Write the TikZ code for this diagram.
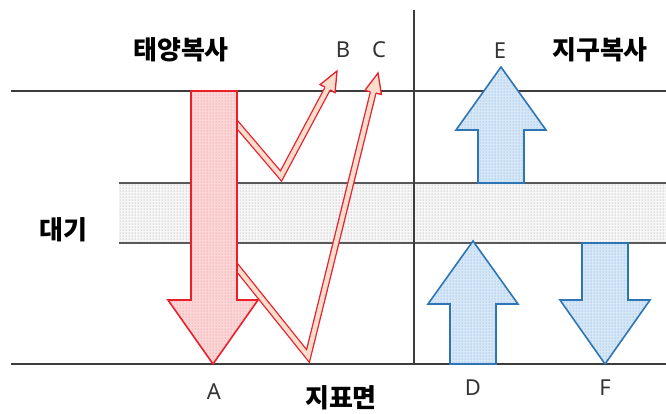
\documentclass[tikz,border=0pt]{standalone}
\usepackage{fontspec}
\setmainfont{Noto Sans}
\newfontfamily\kr{Noto Sans CJK KR}
\usetikzlibrary{calc,patterns}
\definecolor{rline}{RGB}{232,32,44}
\definecolor{rfill}{RGB}{252,214,214}
\definecolor{rthin}{RGB}{250,222,205}
\definecolor{bline}{RGB}{46,117,182}
\definecolor{bfill}{RGB}{214,232,248}
\definecolor{gline}{RGB}{60,60,60}
\newcommand\thinhead[2]{%
  \coordinate (#1b) at ($(#1tip)!20pt!(#2)$);
  \fill[rthin] ($(#1b)!2.9pt!90:(#1tip)$) -- ($(#1b)!8.5pt!90:(#1tip)$) -- (#1tip) -- ($(#1b)!8.5pt!-90:(#1tip)$) -- ($(#1b)!2.9pt!-90:(#1tip)$) -- cycle;
  \draw[thinline] ($(#1b)!2.9pt!90:(#1tip)$) -- ($(#1b)!8.5pt!90:(#1tip)$) -- (#1tip) -- ($(#1b)!8.5pt!-90:(#1tip)$) -- ($(#1b)!2.9pt!-90:(#1tip)$);
}
\begin{document}
\begin{tikzpicture}[x=1pt,y=-1pt,
  frame/.style={draw=gline,line width=1.2pt},
  bandline/.style={draw=gline!85,line width=1.8pt},
  bigred/.style={draw=rline,line width=1.6pt,line join=miter,preaction={fill=rfill},pattern=dots,pattern color=rline!60},
  bigblue/.style={draw=bline,line width=1.6pt,line join=miter,preaction={fill=bfill},pattern=dots,pattern color=bline!70},
  strip/.style={draw=rline,line width=1.3pt,double=rthin,double distance=4.4pt,line join=miter},
  thinline/.style={draw=rline,line width=1.3pt,line join=miter},
  krlabel/.style={font=\kr\bfseries\fontsize{26}{30}\selectfont,inner sep=0pt},
  letter/.style={font=\fontsize{22}{26}\selectfont,text=black!80,inner sep=0pt}]
\useasboundingbox (0,0) rectangle (666,413);
% atmosphere band
\path[preaction={fill=gray!6},pattern=dots,pattern color=gray!90] (119,183) rectangle (666,243);
\draw[bandline] (119,183) -- (666,183);
\draw[bandline] (119,243) -- (666,243);
% frame lines
\draw[frame] (11,91) -- (666,91);
\draw[frame] (11,364) -- (666,364);
\draw[frame] (414,10) -- (414,364);
% reflected strips
\coordinate (Bs) at (229,115);
\coordinate (Bv) at (281,176);
\coordinate (Btip) at (337,71);
\coordinate (Cs) at (231,260);
\coordinate (Cv) at (308,356);
\coordinate (Ctip) at (378,73);
\path coordinate (Bb) at ($(Btip)!20pt!(Bv)$);
\path coordinate (Cb) at ($(Ctip)!20pt!(Cv)$);
\draw[strip] (Bs) -- (Bv) -- (Bb);
\draw[strip] (Cs) -- (Cv) -- (Cb);
\thinhead{B}{Bv}
\thinhead{C}{Cv}
% big solar arrow A
\draw[bigred] (191,91) -- (237,91) -- (237,300) -- (258,300) -- (213,364) -- (168,300) -- (191,300) -- cycle;
% earth arrows
\draw[bigblue] (478,183) -- (478,130) -- (456,130) -- (501,67) -- (546,130) -- (524,130) -- (524,183) -- cycle;
\draw[bigblue] (450,364) -- (450,304) -- (428,304) -- (473,241) -- (518,304) -- (496,304) -- (496,364) -- cycle;
\draw[bigblue] (582,243) -- (582,300) -- (560,300) -- (605,364) -- (650,300) -- (628,300) -- (628,243) -- cycle;
% labels
\node[krlabel] (sun) at (181,50) {태양복사};
\node[krlabel] (earth) at (600,50) {지구복사};
\node[krlabel] (atm) at (63,230) {대기};
\node[krlabel] (sfc) at (341,398) {지표면};
\node[letter] (lA) at (214,392) {A};
\node[letter] (lB) at (343,50) {B};
\node[letter] (lC) at (379,50) {C};
\node[letter] (lE) at (500,51) {E};
\node[letter] (lD) at (473,388) {D};
\node[letter] (lF) at (605,388) {F};
\end{tikzpicture}
\end{document}
